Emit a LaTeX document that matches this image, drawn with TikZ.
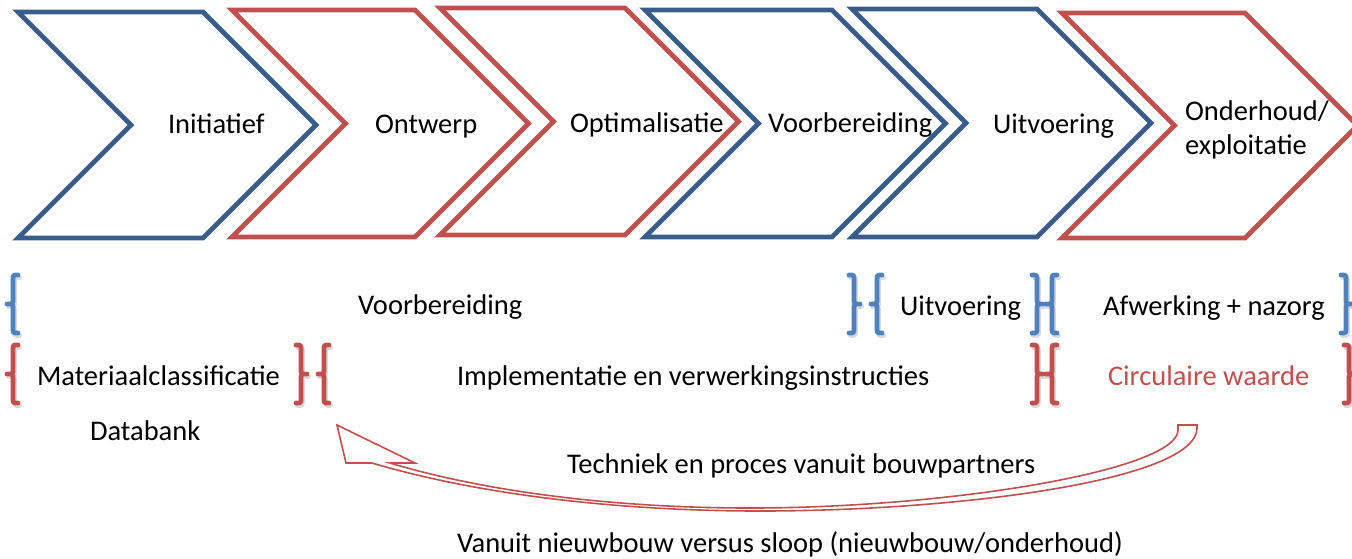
\documentclass[tikz,border=0pt]{standalone}
\usepackage{fontspec}
\setmainfont{Carlito}
\definecolor{chevblue}{HTML}{385D8A}
\definecolor{chevred}{HTML}{C0504D}
\definecolor{braceblue}{HTML}{4F81BD}
\definecolor{bracered}{HTML}{C0504D}
\newcommand\openbrpath{(5,-29) .. controls (0,-29) .. (0,-24) -- (0,-5) .. controls (0,0) .. (-6,0) .. controls (0,0) .. (0,5) -- (0,24) .. controls (0,29) .. (5,29)}
\newcommand\closebrpath{(-5,-29) .. controls (0,-29) .. (0,-24) -- (0,-5) .. controls (0,0) .. (6,0) .. controls (0,0) .. (0,5) -- (0,24) .. controls (0,29) .. (-5,29)}
\tikzset{
  chev/.style={line width=2.4pt, line join=miter, fill=white},
  lbl/.style={inner sep=0pt, outer sep=0pt, anchor=base west, font=\fontsize{14.25pt}{16.75pt}\selectfont},
  brline/.style={line width=2.4pt, line cap=round, line join=round},
  brshadow/.style={brline, draw=black!15},
  openbr/.pic={\draw[brshadow, shift={(1.5,2.5)}] \openbrpath; \draw[brline, pic actions] \openbrpath;},
  closebr/.pic={\draw[brshadow, shift={(1.5,2.5)}] \closebrpath; \draw[brline, pic actions] \closebrpath;},
  loopline/.style={draw=chevred, line width=0.8pt, line join=miter},
}
% chevron: left x, top y, bottom y, right x of the flat top edge, colour
\newcommand\chevron[5]{%
  \pgfmathsetmacro\hh{(#3-#2)/2}%
  \draw[chev, draw=#5] (#1,#2) -- (#4,#2) -- (#4+\hh,#2+\hh) -- (#4,#3) -- (#1,#3) -- (#1+\hh,#2+\hh) -- cycle;}
\begin{document}
\begin{tikzpicture}[x=0.5pt, y=-0.5pt]
\path[use as bounding box] (0,0) rectangle (1352,558);
\clip (0,0) rectangle (1352,558);

% phase chevrons
\chevron{18}{12}{238}{203}{chevblue}
\chevron{232}{10}{237}{415}{chevred}
\chevron{440}{8}{235}{625}{chevred}
\chevron{645}{10}{237}{832}{chevblue}
\chevron{852}{9}{237}{1037}{chevblue}
\chevron{1062}{13}{238}{1245}{chevred}

\node[lbl] (initiatief) at (168,133) {Initiatief};
\node[lbl] (ontwerp) at (375,133) {Ontwerp};
\node[lbl] (optimalisatie) at (570,132) {Optimalisatie};
\node[lbl] (voorbereiding) at (768,132) {Voorbereiding};
\node[lbl] (uitvoering) at (993,133) {Uitvoering};
\node[lbl, align=left] (onderhoud) at (1185,154) {Onderhoud/\\exploitatie};

% process row (blue braces)
\pic[draw=braceblue] at (13,304) {openbr};
\pic[draw=braceblue] at (854,304) {closebr};
\pic[draw=braceblue] at (877,304) {openbr};
\pic[draw=braceblue] at (1037,304) {closebr};
\pic[draw=braceblue] at (1052,304) {openbr};
\pic[draw=braceblue] at (1346,304) {closebr};
\node[lbl] (voorb2) at (358,314) {Voorbereiding};
\node[lbl] (uitv2) at (900,315) {Uitvoering};
\node[lbl] (afwerking) at (1103,315) {Afwerking + nazorg};

% material row (red braces)
\pic[draw=bracered] at (13,374) {openbr};
\pic[draw=bracered] at (301,374) {closebr};
\pic[draw=bracered] at (324,374) {openbr};
\pic[draw=bracered] at (1037,374) {closebr};
\pic[draw=bracered] at (1052,374) {openbr};
\pic[draw=bracered] at (1349,374) {closebr};
\node[lbl] (materiaal) at (37,385) {Materiaalclassificatie};
\node[lbl] (implementatie) at (457,385) {Implementatie en verwerkingsinstructies};
\node[lbl, text=chevred] (circulair) at (1108,385) {Circulaire waarde};
\node[lbl] (databank) at (90,440) {Databank};

% curved return arrow
\draw[loopline] (337,425) -- (415,463) -- (390,463)
  .. controls (490,493) and (620,508) .. (750,508)
  .. controls (950,508) and (1178,470) .. (1178,430) -- (1178,425) -- (1197,425) -- (1197,428)
  .. controls (1197,480) and (960,511) .. (760,511)
  .. controls (620,511) and (480,495) .. (372,463) -- (346,463) -- cycle;

\node[lbl] (techniek) at (567,473) {Techniek en proces vanuit bouwpartners};
\node[lbl] (vanuit) at (457,552) {Vanuit nieuwbouw versus sloop (nieuwbouw/onderhoud)};
\end{tikzpicture}
\end{document}
